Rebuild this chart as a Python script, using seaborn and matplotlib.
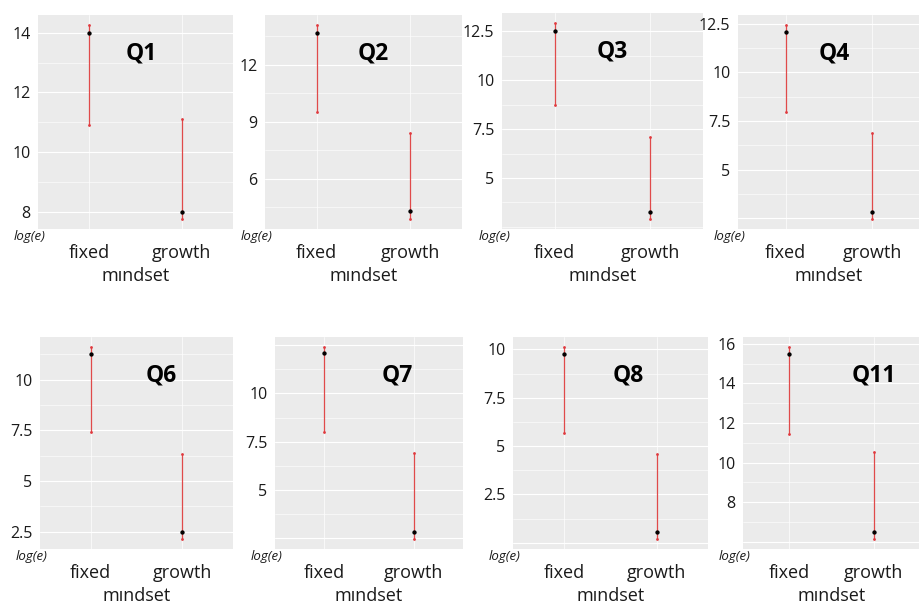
import numpy as np
import pandas as pd
import matplotlib
matplotlib.use("Agg")
import matplotlib.pyplot as plt
from matplotlib.ticker import FixedLocator, MultipleLocator
import seaborn as sns

# values (low end, point, high end of each interval)
questions = ["Q1", "Q2", "Q3", "Q4", "Q6", "Q7", "Q8", "Q11"]
groups = ["fixed", "growth"]
fixed_low = [10.90, 9.50, 8.72, 7.94, 7.42, 8.02, 5.69, 11.44]
fixed_mid = [14.00, 13.70, 12.54, 12.07, 11.25, 12.07, 9.74, 15.49]
fixed_high = [14.27, 14.12, 12.94, 12.45, 11.63, 12.42, 10.14, 15.86]
growth_low = [7.74, 3.86, 2.89, 2.45, 2.12, 2.45, 0.18, 6.12]
growth_mid = [8.00, 4.29, 3.27, 2.84, 2.50, 2.84, 0.58, 6.51]
growth_high = [11.11, 8.43, 7.11, 6.90, 6.33, 6.90, 4.59, 10.51]

y_ticks = [
    [8, 10, 12, 14],
    [6, 9, 12],
    [5, 7.5, 10, 12.5],
    [2.5, 5, 7.5, 10, 12.5],
    [2.5, 5, 7.5, 10],
    [2.5, 5, 7.5, 10, 12.5],
    [0, 2.5, 5, 7.5, 10],
    [6, 8, 10, 12, 14, 16],
]
y_tick_labels = [
    ["8", "10", "12", "14"],
    ["6", "9", "12"],
    ["5", "7.5", "10", "12.5"],
    ["", "5", "7.5", "10", "12.5"],
    ["2.5", "5", "7.5", "10"],
    ["", "5", "7.5", "10", ""],
    ["", "2.5", "5", "7.5", "10"],
    ["", "8", "10", "12", "14", "16"],
]

# layout: panel boxes in pixels (left, top, right, bottom) and title x in axes units
W, H = 920, 604
panel_px = [
    (38, 15, 233, 229), (265, 15, 462, 229), (502, 13, 703, 229), (738, 15, 920, 229),
    (40, 337, 233, 549), (275, 337, 463, 549), (513, 337, 708, 549), (743, 337, 920, 549),
]
title_x = [0.53, 0.55, 0.55, 0.53, 0.63, 0.65, 0.59, 0.74]

RED = "#e0393e"
RED_LINE = "#e04a4a"
PANEL_BG = "#EBEBEB"

rows = []
for i, q in enumerate(questions):
    for g, lo, mid, hi in [("fixed", fixed_low[i], fixed_mid[i], fixed_high[i]),
                           ("growth", growth_low[i], growth_mid[i], growth_high[i])]:
        rows.append({"question": q, "mindset": g, "stat": "low", "value": lo})
        rows.append({"question": q, "mindset": g, "stat": "mid", "value": mid})
        rows.append({"question": q, "mindset": g, "stat": "high", "value": hi})
df = pd.DataFrame(rows)

sns.set_theme(style="darkgrid", rc={
    "axes.facecolor": PANEL_BG,
    "grid.color": "white",
    "axes.edgecolor": PANEL_BG,
})
plt.rcParams["font.family"] = ["Open Sans", "DejaVu Sans"]

fig = plt.figure(figsize=(W / 100, H / 100), dpi=100)

for i, q in enumerate(questions):
    L, T, R, B = panel_px[i]
    ax = fig.add_axes([L / W, 1 - B / H, (R - L) / W, (B - T) / H])
    sub = df[df["question"] == q]
    ends = sub[sub["stat"] != "mid"]

    sns.stripplot(data=ends, x="mindset", y="value", order=groups, jitter=False,
                  color=RED, size=2.0, linewidth=0, ax=ax, zorder=3)
    sns.pointplot(data=sub, x="mindset", y="value", order=groups,
                  estimator="median", errorbar=lambda v: (v.min(), v.max()),
                  color="black", markers="o", markersize=1.1, linestyle="none",
                  err_kws={"color": RED_LINE, "linewidth": 0.9, "zorder": 2.5},
                  ax=ax, zorder=4)

    lo = min(fixed_low[i], growth_low[i])
    hi = max(fixed_high[i], growth_high[i])
    pad = (hi - lo) * 0.05
    ax.set_ylim(lo - pad, hi + pad)
    ax.set_xlim(-0.55, 1.55)

    ax.yaxis.set_major_locator(FixedLocator(y_ticks[i]))
    ax.set_yticklabels(y_tick_labels[i])
    step = y_ticks[i][1] - y_ticks[i][0]
    ax.yaxis.set_minor_locator(MultipleLocator(step / 2))
    ax.grid(which="major", axis="y", color="white", linewidth=0.8)
    ax.grid(which="minor", axis="y", color="white", linewidth=0.4)
    ax.xaxis.grid(True, which="major", color="white", linewidth=0.5)

    ax.tick_params(axis="both", which="major", length=2.5, color="#c4c4c4", width=0.6)
    ax.tick_params(axis="y", which="minor", length=0)
    ax.tick_params(axis="y", labelsize=11.5, labelcolor="#1a1a1a", pad=3)
    ax.tick_params(axis="x", labelsize=13, labelcolor="#1a1a1a", pad=8)
    for s in ax.spines.values():
        s.set_visible(False)

    ax.set_ylabel("")
    ax.set_xlabel("mındset", fontsize=13, color="#1a1a1a", labelpad=4)

    ax.text(title_x[i], 0.82, q, transform=ax.transAxes, ha="center", va="center",
            fontsize=16.5, fontweight="bold", color="black")
    ax.text(0.04, -0.005, "log(e)", transform=ax.transAxes, ha="right", va="top",
            fontsize=9.5, style="italic", color="#1a1a1a")

fig.savefig("out.png", dpi=100, facecolor="white")
